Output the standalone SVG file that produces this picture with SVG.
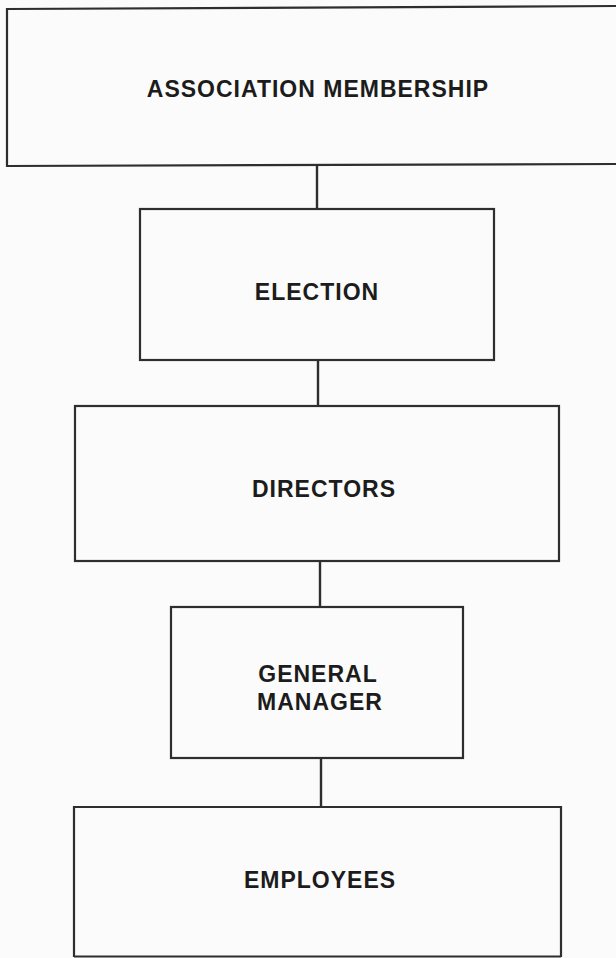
<svg xmlns="http://www.w3.org/2000/svg" width="616" height="958" viewBox="0 0 616 958">
  <style>
    .box { fill: none; stroke: #2e2e2e; stroke-width: 2.2; }
    .link { fill: none; stroke: #2e2e2e; stroke-width: 2.4; }
    .label { font-family: "Liberation Sans", Arial, sans-serif; font-weight: bold; font-size: 23px; letter-spacing: 1px; fill: #1c1c1c; text-anchor: middle; }
  </style>
  <rect x="0" y="0" width="616" height="958" fill="#fbfbfb"/>

  <!-- connectors between levels -->
  <g id="connectors">
    <line class="link" x1="317" y1="165" x2="317" y2="209"/>
    <line class="link" x1="318" y1="360" x2="318" y2="406"/>
    <line class="link" x1="320" y1="561" x2="320" y2="607"/>
    <line class="link" x1="321" y1="758" x2="321" y2="807"/>
  </g>

  <!-- top box runs off the right edge of the sheet -->
  <g id="association-membership">
    <path class="box" d="M620,6 L7,9 L7,166 L620,164"/>
    <text class="label" x="318" y="97">ASSOCIATION MEMBERSHIP</text>
  </g>

  <g id="election">
    <rect class="box" x="140" y="209" width="354" height="151"/>
    <text class="label" x="317" y="300">ELECTION</text>
  </g>

  <g id="directors">
    <rect class="box" x="75" y="406" width="484" height="155"/>
    <text class="label" x="324" y="497">DIRECTORS</text>
  </g>

  <g id="general-manager">
    <rect class="box" x="171" y="607" width="292" height="151"/>
    <text class="label" x="318" y="682">GENERAL</text>
    <text class="label" x="320" y="710">MANAGER</text>
  </g>

  <g id="employees">
    <path class="box" d="M74,957 L74,807 L561,807 L561,957"/>
    <line class="box" x1="74" y1="956.5" x2="561" y2="956.5"/>
    <text class="label" x="320" y="888">EMPLOYEES</text>
  </g>
</svg>
